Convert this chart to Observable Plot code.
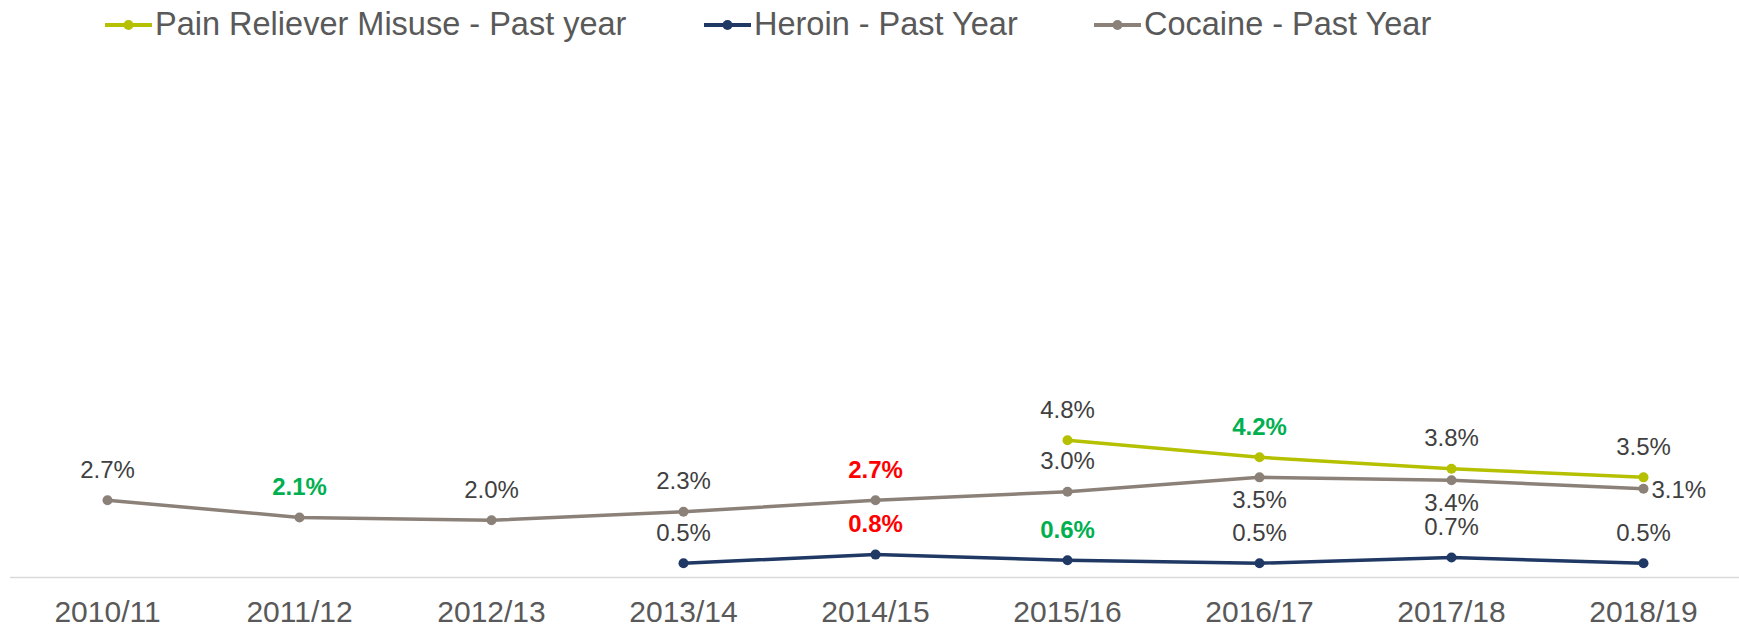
<!DOCTYPE html>
<html>
<head>
<meta charset="utf-8">
<script src="https://cdn.jsdelivr.net/npm/d3@7"></script>
<script src="https://cdn.jsdelivr.net/npm/@observablehq/plot@0.6"></script>
<style>
  html, body { margin: 0; padding: 0; background: #fff; }
  body { width: 1739px; height: 629px; overflow: hidden; font-family: "Liberation Sans", Arial, sans-serif; }
  #legend { height: 30px; position: relative; }
  .item { position: absolute; top: 6px; display: flex; align-items: center; font-size: 32.5px; color: #595959; white-space: nowrap; }
  .item svg { display: block; margin-right: 3px; }
  #chart svg { display: block; }
</style>
</head>
<body>
<div id="legend"></div>
<div id="chart"></div>
<script>
// ---- data ----
const years = ["2010/11", "2011/12", "2012/13", "2013/14", "2014/15", "2015/16", "2016/17", "2017/18", "2018/19"];
const seriesNames = ["Pain Reliever Misuse - Past year", "Heroin - Past Year", "Cocaine - Past Year"];
const painValues    = [null, null, null, null, null, 4.8, 4.2, 3.8, 3.5];
const heroinValues  = [null, null, null, 0.5, 0.8, 0.6, 0.5, 0.7, 0.5];
const cocaineValues = [2.7, 2.1, 2.0, 2.3, 2.7, 3.0, 3.5, 3.4, 3.1];
// significant change vs previous year: "down" (decrease), "up" (increase)
const painChange    = [null, null, null, null, null, null, "down", null, null];
const heroinChange  = [null, null, null, null, "up", "down", null, null, null];
const cocaineChange = [null, "down", null, null, "up", null, null, null, null];

// ---- styles ----
const seriesColors = ["#b5c100", "#1f3864", "#8b8178"];
const cocainePlacement = ["above", "above", "above", "above", "above", "above", "below", "below", "right"];
const changeColor = {down: "#00b050", up: "#ff0000"};

const valueSets = [painValues, heroinValues, cocaineValues];
const changeSets = [painChange, heroinChange, cocaineChange];
const rows = [];
seriesNames.forEach((s, i) => {
  years.forEach((y, j) => {
    const v = valueSets[i][j];
    if (v == null) return;
    rows.push({
      series: s, year: y, value: v,
      change: changeSets[i][j],
      place: i === 2 ? cocainePlacement[j] : "above"
    });
  });
});

// legend
const legend = document.getElementById("legend");
const legendX = [105, 704, 1094];
seriesNames.forEach((s, i) => {
  const div = document.createElement("div");
  div.className = "item";
  div.style.left = legendX[i] + "px";
  div.innerHTML = `<svg width="47" height="14"><line x1="0" x2="47" y1="7" y2="7" stroke="${seriesColors[i]}" stroke-width="4"/><circle cx="23.5" cy="7" r="5" fill="${seriesColors[i]}"/></svg><span>${s}</span>`;
  legend.appendChild(div);
});

const fmt = d => d.toFixed(1) + "%";
const placeOpts = {
  above: {dy: -30},
  below: {dy: 23},
  right: {dx: 8, dy: 2, textAnchor: "start"}
};
const labelMarks = [];
for (const place of ["above", "below", "right"]) {
  for (const bold of [false, true]) {
    const subset = rows.filter(d => d.place === place && !!d.change === bold);
    if (!subset.length) continue;
    labelMarks.push(Plot.text(subset, {
      x: "year", y: "value", text: d => fmt(d.value),
      fontSize: 24,
      fontWeight: bold ? "bold" : "normal",
      fill: d => d.change ? changeColor[d.change] : "#404040",
      ...placeOpts[place]
    }));
  }
}

const chart = Plot.plot({
  width: 1739,
  height: 599,
  marginLeft: 10,
  marginRight: 0,
  marginTop: 32,
  marginBottom: 52,
  style: {fontFamily: "'Liberation Sans', Arial, sans-serif", background: "#fff"},
  x: {type: "band", domain: years, padding: 0, label: null},
  y: {domain: [0, 18], axis: null},
  color: {domain: seriesNames, range: seriesColors},
  marks: [
    Plot.ruleY([0], {stroke: "#d9d9d9", strokeWidth: 1.5}),
    Plot.axisX({tickSize: 0, tickPadding: 23, fontSize: 30, color: "#595959", label: null}),
    Plot.line(rows, {x: "year", y: "value", z: "series", stroke: "series", strokeWidth: 3.5}),
    Plot.dot(rows, {x: "year", y: "value", fill: "series", r: 5, stroke: "none"}),
    ...labelMarks
  ]
});
document.getElementById("chart").appendChild(chart);
</script>
</body>
</html>
